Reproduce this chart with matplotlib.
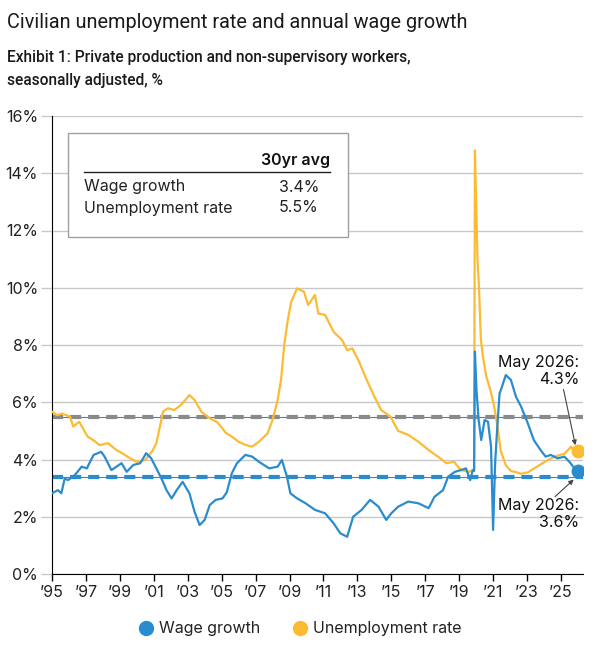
import numpy as np
import matplotlib.pyplot as plt
from matplotlib.lines import Line2D
from matplotlib.patches import Rectangle

plt.rcParams['font.family'] = ['Inter', 'DejaVu Sans']
plt.rcParams['lines.scale_dashes'] = False

# unemployment rate, % (chart position in years, value)
unemp_x = [1995.0, 1995.3, 1995.6, 1996.06, 1996.25, 1996.6, 1997.1, 1997.5, 1997.8, 1998.3,
           1998.8, 1999.2, 1999.6, 2000.0, 2000.5, 2000.95, 2001.15, 2001.55, 2001.83, 2002.2,
           2002.6, 2003.1, 2003.4, 2003.8, 2004.3, 2004.75, 2005.25, 2005.6, 2006.0, 2006.4,
           2006.8, 2007.2, 2007.7, 2008.0, 2008.3, 2008.5, 2008.7, 2008.9, 2009.1, 2009.45,
           2009.85, 2010.1, 2010.5, 2010.7, 2011.1, 2011.6, 2012.1, 2012.4, 2012.7, 2013.1,
           2013.55, 2014.05, 2014.4, 2014.95, 2015.4, 2016.0, 2016.6, 2017.2, 2017.75, 2018.25,
           2018.7, 2019.1, 2019.6, 2019.8, 2019.88, 2019.93, 2020.0, 2020.08, 2020.17, 2020.28,
           2020.4, 2020.6, 2020.85, 2021.05, 2021.25, 2021.45, 2021.75, 2022.05, 2022.4, 2022.65,
           2023.05, 2023.45, 2024.0, 2024.6, 2025.2, 2025.6, 2025.8, 2026.0]
unemp_y = [5.67, 5.55, 5.6, 5.5, 5.15, 5.32, 4.8, 4.65, 4.5, 4.57,
           4.33, 4.2, 4.04, 3.92, 3.98, 4.33, 4.57, 5.67, 5.79, 5.73,
           5.9, 6.25, 6.08, 5.67, 5.44, 5.3, 4.93, 4.8, 4.62, 4.51,
           4.45, 4.62, 4.91, 5.38, 6.08, 6.78, 8.06, 8.87, 9.51, 9.98,
           9.86, 9.4, 9.75, 9.1, 9.05, 8.46, 8.17, 7.82, 7.88, 7.42,
           6.78, 6.14, 5.73, 5.5, 5.0, 4.86, 4.62, 4.33, 4.1, 3.87,
           3.92, 3.63, 3.57, 3.63, 3.6, 14.8, 13.0, 11.0, 10.0, 8.2,
           7.6, 6.9, 6.4, 5.9, 5.2, 4.3, 3.8, 3.6, 3.55, 3.5,
           3.55, 3.7, 3.9, 4.1, 4.2, 4.45, 4.3, 4.3]

# wage growth, % y/y
wage_x = [1995.0, 1995.35, 1995.55, 1995.75, 1995.95, 1996.35, 1996.75, 1997.05, 1997.45, 1997.9,
          1998.1, 1998.5, 1998.8, 1999.1, 1999.4, 1999.8, 2000.2, 2000.55, 2000.85, 2001.15,
          2001.45, 2001.75, 2002.05, 2002.35, 2002.7, 2003.1, 2003.4, 2003.7, 2004.0, 2004.3,
          2004.65, 2005.05, 2005.3, 2005.6, 2005.9, 2006.4, 2006.8, 2007.2, 2007.8, 2008.3,
          2008.55, 2008.85, 2009.05, 2009.45, 2009.95, 2010.5, 2011.1, 2011.6, 2012.0, 2012.4,
          2012.75, 2013.25, 2013.75, 2014.25, 2014.7, 2015.0, 2015.4, 2016.0, 2016.6, 2017.2,
          2017.55, 2018.05, 2018.35, 2018.75, 2019.1, 2019.4, 2019.65, 2019.8, 2019.88, 2019.93,
          2020.02, 2020.15, 2020.3, 2020.5, 2020.7, 2020.88, 2021.0, 2021.12, 2021.25, 2021.38,
          2021.5, 2021.75, 2022.05, 2022.35, 2022.65, 2023.05, 2023.4, 2023.8, 2024.1, 2024.4,
          2024.8, 2025.2, 2025.5, 2025.8, 2026.0]
wage_y = [2.82, 2.93, 2.82, 3.34, 3.28, 3.46, 3.75, 3.69, 4.16, 4.27,
          4.1, 3.63, 3.75, 3.87, 3.57, 3.81, 3.87, 4.22, 4.04, 3.69,
          3.34, 2.93, 2.64, 2.93, 3.22, 2.82, 2.18, 1.71, 1.89, 2.41,
          2.59, 2.64, 2.85, 3.52, 3.87, 4.16, 4.1, 3.92, 3.69, 3.75,
          3.98, 3.4, 2.82, 2.64, 2.47, 2.24, 2.12, 1.77, 1.42, 1.3,
          2.0, 2.24, 2.59, 2.35, 1.89, 2.12, 2.35, 2.53, 2.47, 2.3,
          2.7, 2.93, 3.4, 3.57, 3.63, 3.69, 3.28, 3.63, 3.6, 7.77,
          6.43, 5.38, 4.68, 5.38, 5.32, 4.45, 1.54, 3.87, 5.15, 6.3,
          6.5, 6.95, 6.78, 6.19, 5.85, 5.26, 4.68, 4.33, 4.1, 4.16,
          4.04, 4.1, 3.92, 3.69, 3.6]

wage_avg = 3.4
unemp_avg = 5.5
year_ticks = list(range(1995, 2026, 2))
year_labels = ['\u2019' + str(y)[2:] for y in year_ticks]
pct_ticks = [0, 2, 4, 6, 8, 10, 12, 14, 16]

blue = '#2a8ccd'
orange = '#fbbb33'
W, H = 604, 651


def fx(px):
    return px / W


def fy(py):
    return 1 - py / H


fig = plt.figure(figsize=(6.04, 6.51), dpi=100)
ax = fig.add_axes([fx(52), fy(574), fx(583) - fx(52), fy(116) - fy(574)])

ax.axhline(unemp_avg, color=blue, lw=0.8, zorder=1)
ax.axhline(unemp_avg, color='#8a8a8a', lw=3, dashes=(8, 5), zorder=1.5)
ax.axhline(wage_avg, color=blue, lw=0.8, zorder=1)
ax.axhline(wage_avg, color=blue, lw=3, dashes=(8, 5), zorder=1.5)

ax.plot(unemp_x, unemp_y, color=orange, lw=1.6, zorder=3)
ax.plot(wage_x, wage_y, color=blue, lw=1.6, zorder=4)
ax.plot(unemp_x[-1], unemp_y[-1], 'o', color=orange, ms=9, zorder=5)
ax.plot(wage_x[-1], wage_y[-1], 'o', color=blue, ms=9, zorder=5)

ax.set_xlim(1995, 2026.3)
ax.set_ylim(0, 16)
ax.set_xticks(year_ticks)
ax.set_xticklabels(year_labels)
ax.set_yticks(pct_ticks)
ax.set_yticklabels([f'{v}%' for v in pct_ticks])
ax.grid(axis='y', color='#c8c8c8', lw=1)
ax.set_axisbelow(True)
for s in ['top', 'right']:
    ax.spines[s].set_visible(False)
ax.spines['left'].set_color('black')
ax.spines['bottom'].set_color('black')
ax.tick_params(axis='x', length=5, width=1, color='black', labelsize=11.5,
               labelcolor='#222', pad=3)
ax.tick_params(axis='y', length=8, width=1, color='#c8c8c8', labelsize=11.5,
               labelcolor='#222', pad=2)

# annotations
ax.text(2026.08, 7.1, 'May 2026:\n4.3%', ha='right', va='center', fontsize=11.5,
        color='#111', multialignment='right', linespacing=1.15, zorder=6)
ax.annotate('', xy=(2025.85, 4.5), xytext=(2025.15, 6.45),
            arrowprops=dict(arrowstyle='-|>', color='#444', lw=0.8,
                            mutation_scale=7, shrinkA=0, shrinkB=0), zorder=6)
ax.text(2026.05, 2.1, 'May 2026:\n3.6%', ha='right', va='center', fontsize=11.5,
        color='#111', multialignment='right', linespacing=1.15, zorder=6)
ax.annotate('', xy=(2025.75, 3.3), xytext=(2024.65, 2.7),
            arrowprops=dict(arrowstyle='-|>', color='#444', lw=0.8,
                            mutation_scale=7, shrinkA=0, shrinkB=0), zorder=6)

# average table
fig.patches.append(Rectangle((fx(68), fy(237)), fx(348) - fx(68), fy(133) - fy(237),
                             transform=fig.transFigure, facecolor='white',
                             edgecolor='#a0a0a0', lw=1, zorder=10))
fig.text(fx(330), fy(160), '30yr avg', ha='right', va='center', fontsize=11.5,
         fontweight='semibold', color='#111', zorder=11)
fig.add_artist(Line2D([fx(84), fx(330)], [fy(172), fy(172)], color='#222', lw=1, zorder=11))
fig.text(fx(84), fy(187), 'Wage growth', ha='left', va='center', fontsize=11.5, color='#222', zorder=11)
fig.text(fx(279), fy(187), f'{wage_avg}%', ha='left', va='center', fontsize=11.5, color='#222', zorder=11)
fig.text(fx(84), fy(208), 'Unemployment rate', ha='left', va='center', fontsize=11.5, color='#222', zorder=11)
fig.text(fx(279), fy(208), f'{unemp_avg}%', ha='left', va='center', fontsize=11.5, color='#222', zorder=11)

# titles
fig.text(fx(7), fy(22), 'Civilian unemployment rate and annual wage growth', ha='left',
         va='center', fontsize=14.3, color='#1a1a1a', family=['Roboto', 'DejaVu Sans'])
fig.text(fx(7), fy(69), 'Exhibit 1: Private production and non-supervisory workers,\nseasonally adjusted, %',
         ha='left', va='center', fontsize=11.2, fontweight='medium', color='#1a1a1a',
         linespacing=1.6, family=['Roboto', 'DejaVu Sans'])

handles = [Line2D([], [], marker='o', ls='', color=blue, ms=10),
           Line2D([], [], marker='o', ls='', color=orange, ms=10)]
fig.legend(handles, ['Wage growth', 'Unemployment rate'], loc='center',
           bbox_to_anchor=(fx(300), fy(629)), ncol=2, frameon=False, fontsize=11.5,
           handletextpad=0.3, columnspacing=2.0, handlelength=1.0, labelcolor='#222')

fig.savefig('out.png', dpi=100)
